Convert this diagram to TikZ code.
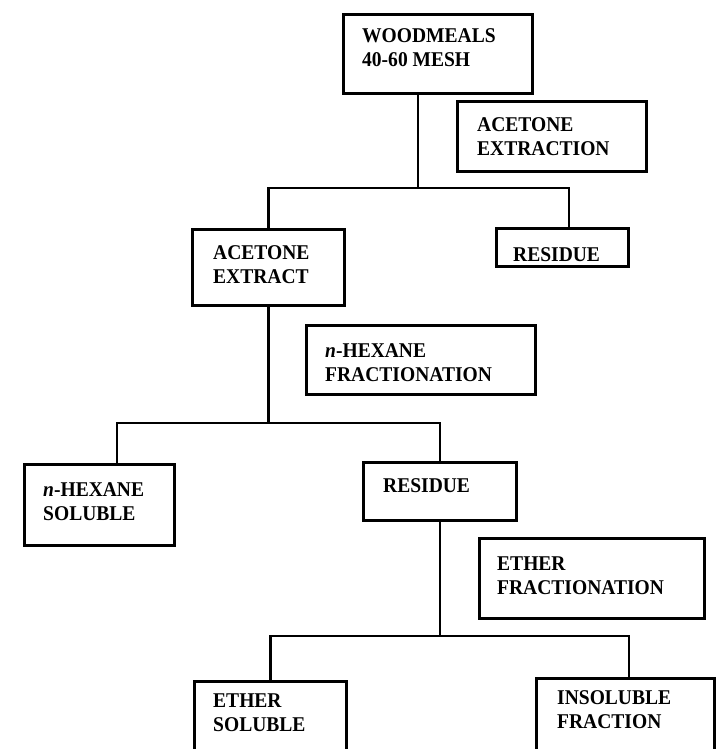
\documentclass[tikz,border=0pt]{standalone}
\usepackage{fontspec}
\setmainfont[FakeStretch=0.93]{Liberation Serif}
\usetikzlibrary{calc}
\begin{document}
\begin{tikzpicture}[x=1pt,y=-1pt,
  flowbox/.style={draw=black,line width=2.6pt,rectangle,inner sep=0pt,anchor=north west},
  boxtext/.style={anchor=north west,inner sep=0pt,align=left,
    font=\fontsize{21}{24}\selectfont\bfseries},
  link/.style={draw=black,line width=2.6pt}]
\clip (0,0) rectangle (721,749);
\useasboundingbox (0,0) rectangle (721,749);
\fill[white] (0,0) rectangle (721,749);
% boxes
\node[flowbox,minimum width=189pt,minimum height=79pt] (wood) at (342,13) {};
\node[flowbox,minimum width=189pt,minimum height=70pt] (aex) at (456,100) {};
\node[flowbox,minimum width=152pt,minimum height=76pt] (ae) at (191,228) {};
\node[flowbox,minimum width=132pt,minimum height=38pt] (res1) at (495,227) {};
\node[flowbox,minimum width=229pt,minimum height=69pt] (hf) at (305,324) {};
\node[flowbox,minimum width=150pt,minimum height=81pt] (hs) at (23,463) {};
\node[flowbox,minimum width=153pt,minimum height=58pt] (res2) at (362,461) {};
\node[flowbox,minimum width=225pt,minimum height=80pt] (ef) at (478,537) {};
\node[flowbox,minimum width=152pt,minimum height=90pt] (es) at (193,680) {};
\node[flowbox,minimum width=178pt,minimum height=90pt] (ins) at (535,677) {};
% texts
\node[boxtext] (woodT) at (362,28) {WOODMEALS\\40-60 MESH};
\node[boxtext] (aexT) at (477,117) {ACETONE\\EXTRACTION};
\node[boxtext] (aeT) at (213,245) {ACETONE\\EXTRACT};
\node[boxtext] (res1T) at (513,247) {RESIDUE};
\node[boxtext] (hfT) at (325,343) {\textit{n}-HEXANE\\FRACTIONATION};
\node[boxtext] (hsT) at (43,482) {\textit{n}-HEXANE\\SOLUBLE};
\node[boxtext] (res2T) at (383,478) {RESIDUE};
\node[boxtext] (efT) at (497,557) {ETHER\\FRACTIONATION};
\node[boxtext] (esT) at (213,694) {ETHER\\SOLUBLE};
\node[boxtext] (insT) at (557,690) {INSOLUBLE\\FRACTION};
% junction coordinates
\coordinate (j1) at (418,188);
\coordinate (r1) at (569,188);
\coordinate (j2) at (267,423);
\coordinate (hl) at (117,423);
\coordinate (j3) at (438,636);
\coordinate (il) at (629,636);
% connectors
\draw[link] (wood.south -| j1) -- (j1);
\draw[link] (ae.north) |- (r1) -- (res1.north -| r1);
\draw[link] (ae.south) -- (ae.south |- j2);
\draw[link] (hs.north -| hl) -- (hl) -- (hl -| res2.north) -- (res2.north);
\draw[link] (res2.south) -- (res2.south |- j3);
\draw[link] (es.north) |- (il) -- (ins.north -| il);
\end{tikzpicture}
\end{document}
